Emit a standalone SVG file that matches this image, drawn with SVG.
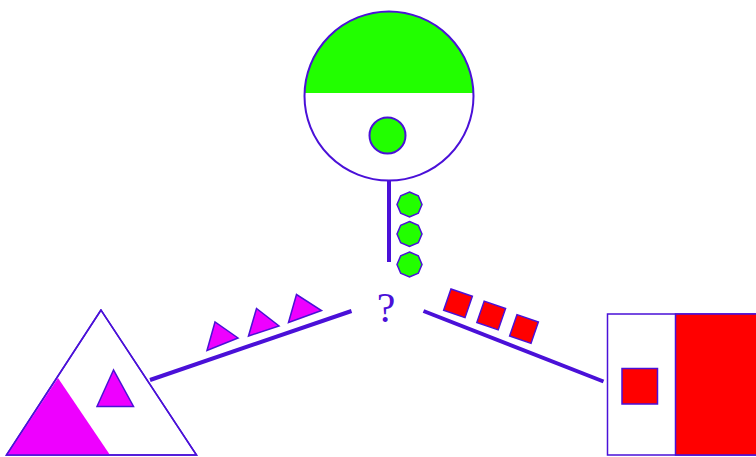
<svg xmlns="http://www.w3.org/2000/svg" width="756" height="457" viewBox="0 0 756 457">
<style>
.s{stroke:#4a10d8;stroke-width:2}
.t{stroke:#4a10d8;stroke-width:1.5}
.g{fill:#22ff00}
.m{fill:#ee00ff}
.r{fill:#ff0000}
.w{fill:#ffffff}
.ln{stroke:#4a10d8;stroke-width:4;fill:none}
</style>
<defs>
<clipPath id="circ"><circle cx="389" cy="96" r="84.5"/></clipPath>
</defs>
<rect width="756" height="457" fill="#ffffff"/>
<g id="circle-node">
<circle cx="389" cy="96" r="84.5" class="w"/>
<rect x="300" y="0" width="180" height="93" class="g" clip-path="url(#circ)"/>
<circle cx="389" cy="96" r="84.5" fill="none" class="s" stroke-width="2.5"/>
<circle cx="387.5" cy="135.5" r="18" class="g s"/>
</g>
<g id="triangle-node">
<polygon points="101,310 6.5,455 196.5,455" class="w t"/>
<polygon points="58,378 7,455 110,455" class="m"/>
<polygon points="101,310 6.5,455 196.5,455" fill="none" class="t"/>
<polygon points="113.5,370 97,406.5 133.5,406.5" class="m t"/>
</g>
<g id="rect-node">
<rect x="607.5" y="314" width="160" height="141" class="w t"/>
<rect x="675.5" y="314" width="90" height="141" class="r t"/>
<rect x="622" y="368.5" width="35.5" height="35.5" class="r t"/>
</g>
<g id="question-node">
<text x="386" y="322" font-family="Liberation Serif, serif" font-size="42" fill="#4a10d8" text-anchor="middle">?</text>
</g>
<g id="connectors">
<line x1="389" y1="180" x2="389" y2="262" class="ln" stroke-width="3"/>
<line x1="150" y1="380" x2="351.5" y2="311" class="ln"/>
<line x1="423.5" y1="311" x2="603.5" y2="381.5" class="ln"/>
</g>
<g id="tokens">
<polygon points="409.5,192 418.3,195.7 422,204.5 418.3,213.3 409.5,217 400.7,213.3 397,204.5 400.7,195.7" class="g t"/>
<polygon points="409.5,221.5 418.3,225.2 422,234 418.3,242.8 409.5,246.5 400.7,242.8 397,234 400.7,225.2" class="g t"/>
<polygon points="409.5,252 418.3,255.7 422,264.5 418.3,273.3 409.5,277 400.7,273.3 397,264.5 400.7,255.7" class="g t"/>
<polygon points="207,350.5 215,322 238,338" class="m t"/>
<polygon points="248.5,336 256.5,308.5 279,326" class="m t"/>
<polygon points="288.5,322.5 296.5,294.5 321.5,310.5" class="m t"/>
<rect x="-11.3" y="-11.3" width="22.6" height="22.6" class="r t" transform="translate(458,303.3) rotate(19)"/>
<rect x="-11.3" y="-11.3" width="22.6" height="22.6" class="r t" transform="translate(491.2,315.5) rotate(19)"/>
<rect x="-11.3" y="-11.3" width="22.6" height="22.6" class="r t" transform="translate(524,329) rotate(19)"/>
</g>
</svg>
